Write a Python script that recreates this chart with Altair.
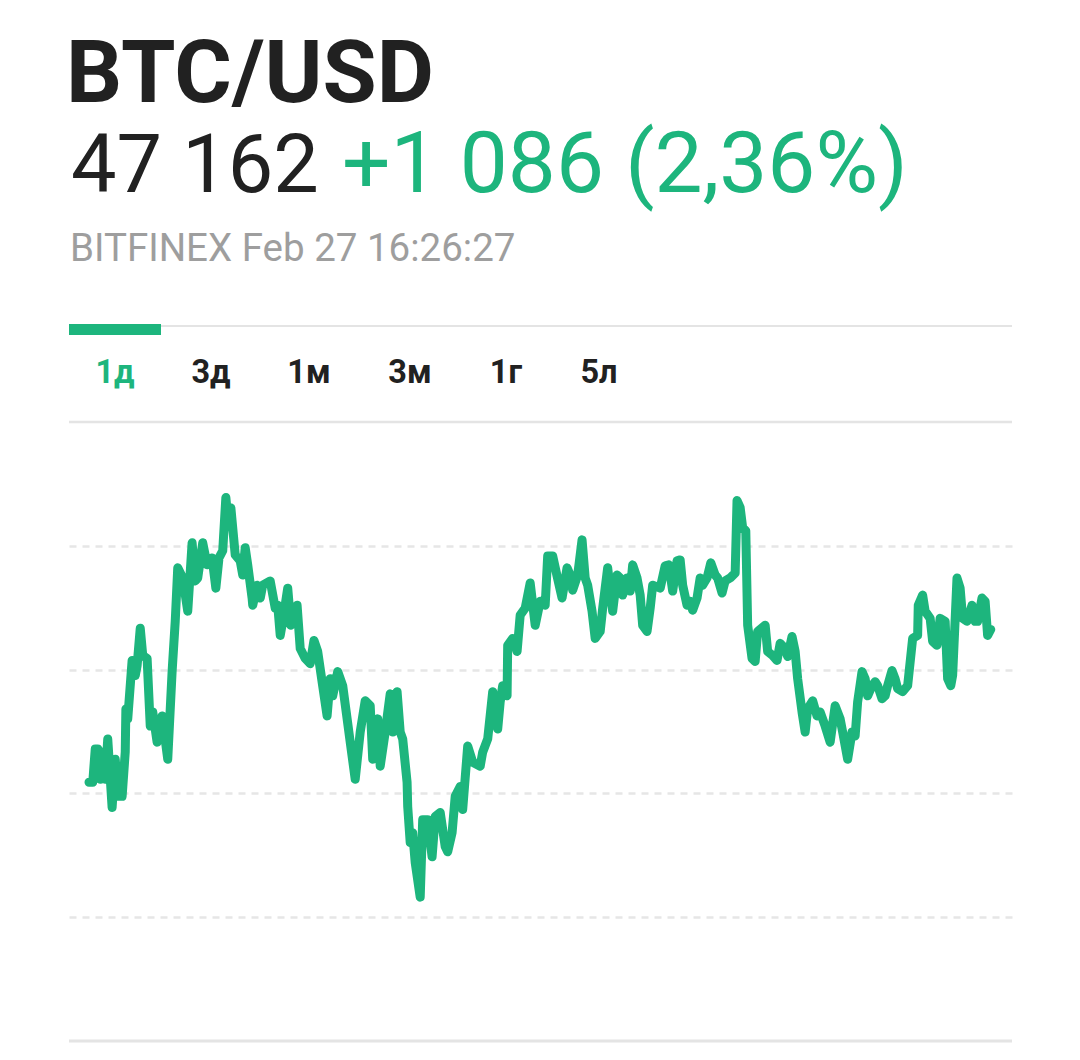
import altair as alt
import pandas as pd

# minutes since session start (x) and BTC/USD price (y)
minutes = [0, 6, 10, 14, 18, 22, 26, 30, 37, 42, 46, 53, 58, 59, 62, 69, 74, 77, 82, 86,
           93, 98, 102, 109, 117, 126, 133, 138, 142, 150, 158, 165, 170, 174, 182, 189, 197, 203, 208, 214,
           219, 222, 227, 234, 242, 246, 250, 254, 261, 262, 269, 274, 278, 290, 298, 302, 306, 310, 318, 323,
           328, 333, 338, 346, 354, 360, 366, 373, 381, 386, 390, 398, 406, 418, 426, 434, 442, 450, 454, 462,
           466, 474, 482, 486, 493, 498, 502, 509, 510, 514, 518, 522, 530, 534, 542, 549, 554, 562, 570, 574,
           581, 586, 594, 598, 606, 614, 626, 630, 638, 646, 654, 658, 662, 669, 670, 678, 685, 690, 698, 706,
           714, 722, 730, 734, 742, 749, 757, 765, 770, 774, 782, 789, 794, 798, 805, 810, 818, 822, 830, 838,
           845, 850, 854, 861, 866, 870, 877, 882, 886, 893, 898, 902, 914, 922, 928, 934, 941, 946, 950, 957,
           962, 966, 973, 978, 982, 989, 995, 1002, 1006, 1013, 1018, 1026, 1034, 1037, 1042, 1046, 1051, 1054, 1061, 1066,
           1070, 1082, 1086, 1094, 1101, 1106, 1114, 1118, 1125, 1130, 1134, 1141, 1146, 1150, 1158, 1165, 1170, 1178, 1186, 1194,
           1202, 1206, 1214, 1221, 1226, 1230, 1237, 1242, 1246, 1253, 1258, 1262, 1269, 1274, 1278, 1285, 1290, 1294, 1302, 1310,
           1318, 1326, 1327, 1334, 1338, 1346, 1350, 1357, 1362, 1370, 1374, 1379, 1382, 1389, 1394, 1398, 1405, 1413, 1418, 1422,
           1429, 1434, 1438, 1443]
prices = [46545, 46545, 46679, 46679, 46557, 46667, 46557, 46720, 46443, 46638, 46488, 46488, 46667, 46841, 46801, 47037, 46976, 47016, 47167, 47057,
          47045, 46772, 46829, 46707, 46813, 46638, 46992, 47195, 47411, 47370, 47236, 47512, 47358, 47370, 47512, 47423, 47451, 47329, 47451, 47480,
          47695, 47614, 47654, 47463, 47439, 47382, 47492, 47423, 47289, 47260, 47341, 47289, 47341, 47358, 47248, 47260, 47138, 47195, 47329, 47179,
          47195, 47260, 47085, 47045, 47024, 47118, 47073, 46951, 46813, 46963, 46894, 46992, 46935, 46707, 46557, 46748, 46874, 46854, 46638, 46801,
          46610, 46748, 46902, 46748, 46911, 46748, 46720, 46545, 46447, 46301, 46341, 46220, 46081, 46394, 46394, 46244, 46407, 46423, 46285, 46264,
          46341, 46488, 46528, 46435, 46691, 46626, 46610, 46667, 46720, 46911, 46760, 46870, 46935, 46894, 47098, 47126, 47073, 47220, 47248, 47350,
          47179, 47276, 47260, 47459, 47459, 47378, 47289, 47411, 47382, 47321, 47382, 47524, 47370, 47341, 47236, 47126, 47154, 47248, 47411, 47236,
          47382, 47370, 47301, 47370, 47317, 47423, 47370, 47301, 47179, 47154, 47248, 47341, 47329, 47419, 47423, 47317, 47439, 47443, 47341, 47260,
          47276, 47240, 47289, 47370, 47341, 47370, 47431, 47382, 47370, 47309, 47358, 47370, 47390, 47683, 47654, 47573, 47561, 47179, 47045, 47033,
          47154, 47179, 47073, 47057, 47037, 47106, 47085, 47053, 47134, 47073, 46963, 46829, 46748, 46841, 46874, 46813, 46829, 46772, 46707, 46854,
          46801, 46748, 46638, 46748, 46732, 46870, 46992, 46963, 46894, 46935, 46951, 46935, 46882, 46894, 46935, 46996, 46963, 46923, 46911, 46935,
          47126, 47138, 47260, 47301, 47236, 47207, 47114, 47098, 47207, 47195, 46963, 46935, 46976, 47370, 47329, 47207, 47195, 47260, 47195, 47195,
          47289, 47276, 47138, 47162]

grid_levels = [46000, 46500, 47000, 47500]
tabs = ["1д", "3д", "1м", "3м", "1г", "5л"]
title_text = "BTC/USD"
last_price = "47 162"
change_text = "+1 086 (2,36%)"
source_text = "BITFINEX Feb 27 16:26:27"

GREEN = "#1db57d"
DARK = "#212121"
GRAY = "#9e9e9e"
LINE_GRAY = "#e4e4e4"
FONT = "Roboto"

W, H = 943, 619

df = pd.DataFrame({"t": minutes, "price": prices})
one = pd.DataFrame({"k": [0]})

line = alt.Chart(df).mark_line(
    color=GREEN, strokeWidth=9, strokeJoin="round", strokeCap="round"
).encode(
    x=alt.X("t:Q", scale=alt.Scale(domain=[-32, 1477], nice=False, zero=False), axis=None),
    y=alt.Y("price:Q",
            scale=alt.Scale(domain=[45500, 48000], nice=False, zero=False),
            axis=alt.Axis(values=grid_levels, grid=True, gridDash=[7, 6], gridColor="#e6e6e6",
                          gridWidth=2.5, labels=False, ticks=False, domain=False, title=None)),
)

def rule(yv, width=2.5):
    return alt.Chart(one).mark_rule(color=LINE_GRAY, strokeWidth=width).encode(
        x=alt.value(0), x2=alt.value(W), y=alt.value(yv))

top_rule = rule(0, 2.5)
bottom_rule = rule(H, 3)
tab_rule = rule(-96, 2)

tab_bar = alt.Chart(one).mark_rect(color=GREEN).encode(
    x=alt.value(0), x2=alt.value(92), y=alt.value(-98), y2=alt.value(-87))

def text(label, xv, yv, size, color, weight="normal", align="left"):
    return alt.Chart(one).mark_text(
        text=label, font=FONT, fontSize=size, color=color, fontWeight=weight,
        align=align, baseline="alphabetic"
    ).encode(x=alt.value(xv), y=alt.value(yv))

tab_x = [46, 142, 240, 341, 437, 530]
tab_layers = [text(lbl, xv, -39, 32.5, GREEN if i == 0 else DARK, "bold", "center")
              for i, (lbl, xv) in enumerate(zip(tabs, tab_x))]

header = [
    text(title_text, -3, -320, 88, DARK, "bold"),
    text(last_price, 2, -230, 81, DARK),
    text(change_text, 273, -230, 85.5, GREEN),
    text(source_text, 1, -161, 38.5, GRAY),
]

chart = alt.layer(
    top_rule, bottom_rule, tab_rule, tab_bar, line, *tab_layers, *header
).properties(
    width=W, height=H,
    padding={"left": 61, "top": 414, "right": 60, "bottom": 19},
    autosize=alt.AutoSizeParams(type="none"),
    background="white",
).configure_view(strokeWidth=0)

chart.save("out.html", embed_options={"renderer": "svg", "actions": False})
